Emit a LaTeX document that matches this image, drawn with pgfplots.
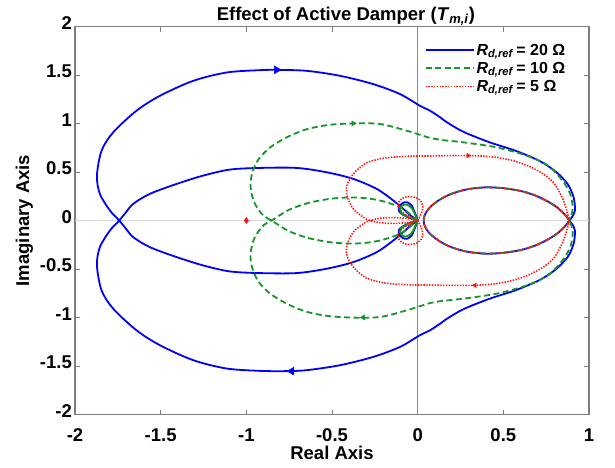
\documentclass[border=0pt]{standalone}
\usepackage{fontspec}
\setmainfont{Liberation Sans}
\usepackage{pgfplots}
\pgfplotsset{compat=1.18}

\definecolor{nqblue}{RGB}{0,0,255}
\definecolor{nqgreen}{RGB}{20,150,40}
\definecolor{nqred}{RGB}{255,20,20}
\definecolor{framegray}{RGB}{125,125,125}

\begin{document}
\begin{tikzpicture}[x=1pt,y=1pt]
\useasboundingbox (0,0) rectangle (615,467);
\begin{axis}[
  at={(75pt,52.5pt)}, anchor=south west,
  width=514pt, height=388pt, scale only axis,
  xmin=-2, xmax=1, ymin=-2, ymax=2,
  xtick={-2,-1.5,-1,-0.5,0,0.5,1},
  ytick={-2,-1.5,-1,-0.5,0,0.5,1,1.5,2},
  tick align=inside, major tick length=5pt,
  tick style={framegray, line width=1pt},
  axis line style={framegray, line width=1.6pt},
  /pgf/number format/assume math mode=true,
  ticklabel style={font=\fontsize{18.5}{20}\selectfont\bfseries},
  xticklabel style={anchor=north, yshift=-11pt},
  yticklabel style={anchor=mid east, inner sep=0pt, xshift=-3pt},
  every axis title shift=0pt,
  title={Effect of Active Damper (\textit{T}\textsubscript{\textit{m,i}})},
  title style={at={(axis description cs:0.527,1.0155)}, anchor=base, yshift=0pt,
    font=\fontsize{18.5}{20}\selectfont\bfseries},
  xlabel={Real Axis},
  xlabel style={at={(axis description cs:0.5,-0.1171)}, anchor=base, yshift=0pt,
    font=\fontsize{18.5}{20}\selectfont\bfseries},
  ylabel={Imaginary Axis},
  ylabel style={at={(axis description cs:-0.0895,0.5)}, anchor=base,
    font=\fontsize{18.5}{20}\selectfont\bfseries},
  legend style={at={(axis description cs:0.68,0.961)}, anchor=north west,
    draw=none, fill=none, inner sep=0pt, row sep=1.4pt,
    font=\fontsize{16}{16.5}\selectfont\bfseries},
  legend cell align=left,
  legend image code/.code={\draw[#1] (0pt,0pt) -- (48pt,0pt);},
]

% legend samples
\addlegendimage{nqblue, line width=1.8pt}
\addlegendentry{\textit{R}\textsubscript{\textit{d,ref}}\,= 20 Ω}
\addlegendimage{nqgreen, line width=1.8pt, dash pattern=on 6pt off 3.5pt}
\addlegendentry{\textit{R}\textsubscript{\textit{d,ref}}\,= 10 Ω}
\addlegendimage{nqred, line width=1.6pt, dash pattern=on 1.4pt off 1.4pt}
\addlegendentry{\textit{R}\textsubscript{\textit{d,ref}}\,= 5 Ω}

% real and imaginary axes
\addplot[forget plot, color=black!15, line width=0.8pt] coordinates {(-2,0) (1,0)};
\addplot[forget plot, color=black!45, line width=1.6pt] coordinates {(0,-2) (0,2)};

% ---------------- R_d,ref = 20 Ohm ----------------
\addplot[forget plot, nqblue, line width=1.8pt, smooth, tension=0.5] coordinates {
 (0,0) (-0.040,0.050) (-0.084,0.120) (-0.142,0.206) (-0.239,0.326) (-0.376,0.429)
 (-0.531,0.497) (-0.706,0.542) (-0.921,0.542) (-1.096,0.525) (-1.252,0.463)
 (-1.407,0.377) (-1.563,0.275) (-1.660,0.172) (-1.700,0.090) (-1.742,0)
 (-1.796,-0.103) (-1.855,-0.275) (-1.872,-0.463) (-1.845,-0.720) (-1.777,-0.909)
 (-1.641,-1.132) (-1.504,-1.286) (-1.310,-1.440) (-1.115,-1.526) (-0.921,-1.550)
 (-0.780,-1.553) (-0.648,-1.543) (-0.454,-1.492) (-0.259,-1.406) (-0.103,-1.303)
 (0.013,-1.183) (0.072,-1.132) (0.130,-1.065) (0.169,-1.015) (0.266,-0.915)
 (0.420,-0.806) (0.570,-0.720) (0.710,-0.615) (0.805,-0.505) (0.875,-0.377)
 (0.910,-0.240) (0.918,-0.103) (0.899,-0.030) (0.885,0)
 (0.855,0.070) (0.810,0.140) (0.750,0.205) (0.680,0.262) (0.600,0.305)
 (0.500,0.333) (0.400,0.342) (0.300,0.325) (0.230,0.295) (0.170,0.255)
 (0.120,0.205) (0.080,0.150) (0.055,0.100) (0.040,0.050) (0.035,0)
 (0.040,-0.050) (0.055,-0.100) (0.080,-0.150) (0.120,-0.205) (0.170,-0.255)
 (0.230,-0.295) (0.300,-0.325) (0.400,-0.342) (0.500,-0.333) (0.600,-0.305)
 (0.680,-0.262) (0.750,-0.205) (0.810,-0.140) (0.855,-0.070) (0.885,0)
 (0.899,0.030) (0.918,0.103) (0.910,0.240) (0.875,0.377) (0.805,0.505)
 (0.710,0.615) (0.570,0.720) (0.420,0.806) (0.266,0.915) (0.169,1.015)
 (0.130,1.065) (0.072,1.132) (0.013,1.183) (-0.103,1.303) (-0.259,1.406)
 (-0.454,1.492) (-0.648,1.543) (-0.823,1.553) (-0.921,1.550) (-1.115,1.526)
 (-1.310,1.440) (-1.504,1.286) (-1.641,1.132) (-1.777,0.909) (-1.845,0.720)
 (-1.872,0.463) (-1.855,0.275) (-1.796,0.103) (-1.742,0)
 (-1.700,-0.090) (-1.660,-0.172) (-1.563,-0.275) (-1.407,-0.377) (-1.252,-0.463)
 (-1.096,-0.525) (-0.921,-0.542) (-0.706,-0.542) (-0.531,-0.497) (-0.376,-0.429)
 (-0.239,-0.326) (-0.142,-0.206) (-0.084,-0.120) (-0.040,-0.050) (0,0)
};
\addplot[forget plot, nqblue, line width=1.8pt, smooth, tension=0.5] coordinates {
 (0,0) (-0.012,0.060) (-0.022,0.103) (-0.035,0.154) (-0.061,0.188) (-0.088,0.180)
 (-0.107,0.144) (-0.109,0.096) (-0.084,0.058) (-0.045,0.027) (0,0)};
\addplot[forget plot, nqblue, line width=1.8pt, smooth, tension=0.5] coordinates {
 (0,0) (-0.012,-0.060) (-0.022,-0.103) (-0.035,-0.154) (-0.061,-0.188) (-0.088,-0.180)
 (-0.107,-0.144) (-0.109,-0.096) (-0.084,-0.058) (-0.045,-0.027) (0,0)};
\addplot[forget plot, only marks, mark=triangle*, mark size=4.5pt,
  mark options={rotate=-90, nqblue, fill=nqblue}] coordinates {(-0.823,1.553)};
\addplot[forget plot, only marks, mark=triangle*, mark size=4.5pt,
  mark options={rotate=90, nqblue, fill=nqblue}] coordinates {(-0.736,-1.553)};

% ---------------- R_d,ref = 10 Ohm ----------------
\addplot[forget plot, nqgreen, line width=1.8pt, dash pattern=on 6pt off 3.5pt, smooth, tension=0.5] coordinates {
 (0,0) (-0.026,0.034) (-0.060,0.090) (-0.103,0.137) (-0.150,0.170) (-0.220,0.206)
 (-0.300,0.230) (-0.395,0.238) (-0.500,0.226) (-0.590,0.200) (-0.660,0.170)
 (-0.745,0.115) (-0.800,0.060) (-0.852,0)
 (-0.901,-0.051) (-0.950,-0.172) (-0.972,-0.300) (-0.975,-0.400) (-0.960,-0.520)
 (-0.925,-0.640) (-0.860,-0.755) (-0.765,-0.857) (-0.650,-0.940) (-0.520,-0.985)
 (-0.376,-1.001) (-0.220,-0.995) (-0.064,-0.926) (0.072,-0.851) (0.130,-0.832)
 (0.266,-0.806) (0.461,-0.754) (0.636,-0.669) (0.760,-0.566) (0.845,-0.412)
 (0.890,-0.275) (0.905,-0.137) (0.895,-0.040) (0.885,0)
 (0.855,0.070) (0.810,0.140) (0.750,0.205) (0.680,0.262) (0.600,0.305)
 (0.500,0.333) (0.400,0.342) (0.300,0.325) (0.230,0.295) (0.170,0.255)
 (0.120,0.205) (0.080,0.150) (0.055,0.100) (0.040,0.050) (0.035,0)
 (0.040,-0.050) (0.055,-0.100) (0.080,-0.150) (0.120,-0.205) (0.170,-0.255)
 (0.230,-0.295) (0.300,-0.325) (0.400,-0.342) (0.500,-0.333) (0.600,-0.305)
 (0.680,-0.262) (0.750,-0.205) (0.810,-0.140) (0.855,-0.070) (0.885,0)
 (0.895,0.040) (0.905,0.137) (0.890,0.275) (0.845,0.412) (0.760,0.566)
 (0.636,0.669) (0.461,0.754) (0.266,0.806) (0.130,0.832) (0.072,0.851)
 (-0.064,0.926) (-0.220,0.995) (-0.376,1.001) (-0.520,0.985) (-0.650,0.940)
 (-0.765,0.857) (-0.860,0.755) (-0.925,0.640) (-0.960,0.520) (-0.975,0.400)
 (-0.972,0.300) (-0.950,0.172) (-0.901,0.051) (-0.852,0)
 (-0.800,-0.060) (-0.745,-0.115) (-0.660,-0.170) (-0.590,-0.200) (-0.500,-0.226)
 (-0.395,-0.238) (-0.300,-0.230) (-0.220,-0.206) (-0.150,-0.170) (-0.103,-0.137)
 (-0.060,-0.090) (-0.026,-0.034) (0,0)
};
\addplot[forget plot, nqgreen, line width=1.8pt, smooth, tension=0.5] coordinates {
 (0,0) (-0.015,0.060) (-0.028,0.110) (-0.045,0.145) (-0.068,0.165) (-0.090,0.155)
 (-0.102,0.120) (-0.098,0.082) (-0.070,0.048) (-0.035,0.020) (0,0)};
\addplot[forget plot, nqgreen, line width=1.8pt, smooth, tension=0.5] coordinates {
 (0,0) (-0.015,-0.060) (-0.028,-0.110) (-0.045,-0.145) (-0.068,-0.165) (-0.090,-0.155)
 (-0.102,-0.120) (-0.098,-0.082) (-0.070,-0.048) (-0.035,-0.020) (0,0)};
\addplot[forget plot, only marks, mark=triangle*, mark size=3pt,
  mark options={rotate=-90, nqgreen, fill=nqgreen}] coordinates {(-0.376,1.001)};
\addplot[forget plot, only marks, mark=triangle*, mark size=3pt,
  mark options={rotate=90, nqgreen, fill=nqgreen}] coordinates {(-0.318,-0.999)};

% ---------------- R_d,ref = 5 Ohm ----------------
\addplot[forget plot, nqred, line width=1.6pt, dash pattern=on 1.4pt off 1.4pt, smooth, tension=0.5] coordinates {
 (0,0) (-0.030,0.012) (-0.080,0.025) (-0.150,0.030) (-0.220,0.022) (-0.280,0)
 (-0.318,-0.034) (-0.376,-0.120) (-0.410,-0.240) (-0.415,-0.343) (-0.395,-0.430)
 (-0.360,-0.510) (-0.298,-0.595) (-0.220,-0.635) (-0.162,-0.651) (-0.080,-0.660)
 (-0.006,-0.665) (0.072,-0.665) (0.180,-0.669) (0.295,-0.669) (0.380,-0.664)
 (0.470,-0.648) (0.560,-0.615) (0.640,-0.566) (0.705,-0.510) (0.760,-0.446)
 (0.800,-0.375) (0.825,-0.300) (0.848,-0.220) (0.864,-0.137) (0.877,-0.060) (0.885,0)
 (0.855,0.070) (0.810,0.140) (0.750,0.205) (0.680,0.262) (0.600,0.305)
 (0.500,0.333) (0.400,0.342) (0.300,0.325) (0.230,0.295) (0.170,0.255)
 (0.120,0.205) (0.080,0.150) (0.055,0.100) (0.040,0.050) (0.035,0)
 (0.040,-0.050) (0.055,-0.100) (0.080,-0.150) (0.120,-0.205) (0.170,-0.255)
 (0.230,-0.295) (0.300,-0.325) (0.400,-0.342) (0.500,-0.333) (0.600,-0.305)
 (0.680,-0.262) (0.750,-0.205) (0.810,-0.140) (0.855,-0.070) (0.885,0)
 (0.877,0.060) (0.864,0.137) (0.848,0.220) (0.825,0.300) (0.800,0.375)
 (0.760,0.446) (0.705,0.510) (0.640,0.566) (0.560,0.615) (0.470,0.648)
 (0.380,0.664) (0.295,0.669) (0.180,0.669) (0.072,0.665) (-0.006,0.665)
 (-0.080,0.660) (-0.162,0.651) (-0.220,0.635) (-0.298,0.595) (-0.360,0.510)
 (-0.395,0.430) (-0.415,0.343) (-0.410,0.240) (-0.376,0.120) (-0.318,0.034) (-0.280,0)
 (-0.220,-0.022) (-0.150,-0.030) (-0.080,-0.025) (-0.030,-0.012) (0,0)
};
\addplot[forget plot, nqred, line width=1.6pt, dash pattern=on 1.4pt off 1.4pt, smooth, tension=0.5] coordinates {
 (0,0) (0.018,0.060) (0.030,0.130) (0.022,0.190) (-0.005,0.232) (-0.050,0.248)
 (-0.090,0.228) (-0.113,0.185) (-0.112,0.130) (-0.085,0.080) (-0.040,0.035) (0,0)};
\addplot[forget plot, nqred, line width=1.6pt, dash pattern=on 1.4pt off 1.4pt, smooth, tension=0.5] coordinates {
 (0,0) (0.018,-0.060) (0.030,-0.130) (0.022,-0.190) (-0.005,-0.232) (-0.050,-0.248)
 (-0.090,-0.228) (-0.113,-0.185) (-0.112,-0.130) (-0.085,-0.080) (-0.040,-0.035) (0,0)};
\addplot[forget plot, only marks, mark=triangle*, mark size=2.6pt,
  mark options={rotate=-90, nqred, fill=nqred}] coordinates {(0.295,0.669)};
\addplot[forget plot, only marks, mark=triangle*, mark size=2.6pt,
  mark options={rotate=90, nqred, fill=nqred}] coordinates {(0.334,-0.668)};

% critical point -1
\addplot[forget plot, only marks, mark=diamond*, mark size=3pt,
  mark options={nqred, fill=nqred}] coordinates {(-1,0)};

\end{axis}
\end{tikzpicture}
\end{document}
